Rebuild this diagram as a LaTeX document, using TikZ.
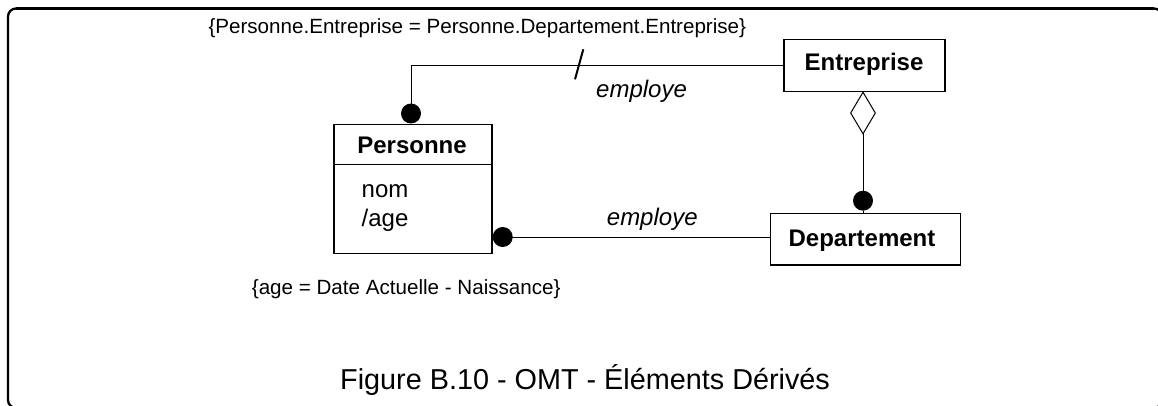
\documentclass[tikz,border=0pt]{standalone}
\usepackage{fontspec}
\setmainfont{Liberation Sans}
\usetikzlibrary{shapes.geometric}
\begin{document}
\begin{tikzpicture}[x=1pt,y=-1pt,
  box/.style={draw, line width=1.2pt, inner sep=0pt, fill=white},
  conn/.style={draw, line width=1pt},
  dotn/.style={circle, fill=black, inner sep=0pt, minimum size=20pt},
  txt/.style={inner sep=0pt, anchor=base west, font=\fontsize{24}{28}\selectfont},
  ttl/.style={inner sep=0pt, anchor=base, font=\fontsize{24}{28}\selectfont\bfseries},
  cons/.style={inner sep=0pt, anchor=base west, font=\fontsize{20.6}{25}\selectfont},
  role/.style={inner sep=0pt, anchor=base west, font=\fontsize{24}{28}\selectfont\itshape},
  agg/.style={diamond, draw, line width=1pt, fill=white, inner sep=0pt, minimum width=25pt, minimum height=42pt}
]
\useasboundingbox (0,0) rectangle (1158,406);
% frame
\draw[line width=2.3pt, rounded corners=8pt] (8,8.5) rectangle (1162,408);
\draw[line width=3.3pt] (16,8.5) -- (1154,8.5);

% classes
\node[box, minimum width=158pt, minimum height=129pt] (personne) at (413,188.7) {};
\draw[line width=1.2pt] (334,164.3) -- (492,164.3);
\node[ttl] (ptitle) at (412,154) {Personne};
\node[txt] (nom) at (361.5,197) {nom};
\node[txt] (age) at (361.5,226) {/age};

\node[box, minimum width=161pt, minimum height=52pt] (entreprise) at (864.5,65.3) {};
\node[ttl] (etitle) at (864,70.7) {Entreprise};

\node[box, minimum width=189.6pt, minimum height=51.7pt] (departement) at (865.5,239.2) {};
\node[ttl] (dtitle) at (862,246) {Departement};

% ends
\node[dotn] (pdot1) at (411,113.5) {};
\node[dotn] (pdot2) at (502.7,237) {};
\node[dotn] (ddot) at (863,200.7) {};
\node[agg] (diam) at (863,113) {};

% connectors
\draw[conn] (pdot1.center) -- (pdot1.center |- entreprise.west) -- (entreprise.west);
\draw[conn] (pdot1.south) -- (pdot1.south |- personne.north);
\draw[conn] (pdot2.center) -- (pdot2.center -| departement.west);
\draw[conn] (diam.south) -- (ddot.center);
\draw[conn] (ddot.south) -- (ddot.south |- departement.north);
\draw[line width=2pt] (575,79.3) -- (583.3,49.3);

% labels
\node[role] (emp1) at (596,97.3) {employe};
\node[role] (emp2) at (606.7,225) {employe};
\node[cons] (c1) at (208.3,33.3) {\{Personne.Entreprise = Personne.Departement.Entreprise\}};
\node[cons] (c2) at (251.7,294.5) {\{age = Date Actuelle - Naissance\}};
\node[inner sep=0pt, anchor=base west, font=\fontsize{28.8}{34}\selectfont] (cap) at (340,389) {Figure B.10 - OMT - Éléments Dérivés};
\end{tikzpicture}
\end{document}
